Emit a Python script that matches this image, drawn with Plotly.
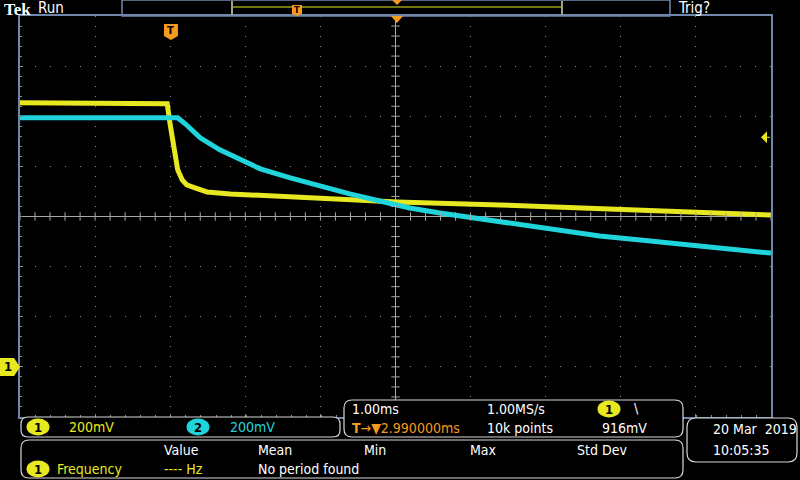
import numpy as np
import plotly.graph_objects as go

# screen is 800x480, graticule box in pixels
W, H = 800, 480
GX0, GX1, GY0, GY1 = 20, 771, 16, 417

# time from trigger (ms), 1 ms/div, 10 div on screen
t_range = [-2.01, 7.99]
ch1_scale, ch1_offset = 0.2, -3.0   # V/div, div
ch2_scale, ch2_offset = 0.2, -5.0

# channel 1 (yellow)
ch1_t = [-2.01, -0.05, -0.01, 0.04, 0.09, 0.15, 0.21, 0.32, 0.48, 0.79, 1.72, 3.01, 4.38, 5.71, 7.04, 7.99]
ch1_v = [1.054, 1.050, 0.966, 0.866, 0.786, 0.746, 0.726, 0.714, 0.698, 0.690, 0.678, 0.658, 0.646, 0.630, 0.618, 0.606]

# channel 2 (cyan)
ch2_t = [-2.01, 0.09, 0.19, 0.39, 0.65, 0.92, 1.19, 1.59, 1.98, 2.38, 2.78, 3.18, 3.58, 4.12,
         4.65, 5.18, 5.71, 6.25, 6.78, 7.31, 7.99]
ch2_v = [1.394, 1.394, 1.370, 1.314, 1.266, 1.226, 1.190, 1.154, 1.122, 1.090, 1.062, 1.034, 1.014,
         0.990, 0.970, 0.946, 0.922, 0.906, 0.890, 0.874, 0.854]

trig_level = 0.916
trig_delay = 2.99

YEL = '#e8e820'
CYN = '#20d4dc'
ORG = '#f59a1e'
BORDER = '#7088ae'
GRID = '#8a8a8a'
FONT = 'DejaVu Sans Condensed'


def px(x):
    return x / W


def py(y):
    return 1 - y / H


def rrect(x0, y0, x1, y1, r=7):
    rx, ry = r / W, r / H
    a0, a1, b0, b1 = px(x0), px(x1), py(y0), py(y1)
    return (f'M{a0 + rx},{b0} L{a1 - rx},{b0} Q{a1},{b0} {a1},{b0 - ry} '
            f'L{a1},{b1 + ry} Q{a1},{b1} {a1 - rx},{b1} L{a0 + rx},{b1} '
            f'Q{a0},{b1} {a0},{b1 + ry} L{a0},{b0 - ry} Q{a0},{b0} {a0 + rx},{b0} Z')


def poly(points):
    return 'M' + ' L'.join(f'{px(x)},{py(y)}' for x, y in points) + ' Z'


shapes = []
annos = []


def text(x, y, s, color='white', size=13, anchor='left', bold=False, family=FONT):
    if bold:
        s = f'<b>{s}</b>'
    annos.append(dict(x=px(x), y=py(y), xref='paper', yref='paper', text=s, showarrow=False,
                      xanchor=anchor, yanchor='middle', font=dict(family=family, size=size, color=color)))


def badge(xc, yc, label, color, w=23, h=17):
    shapes.append(dict(type='circle', xref='paper', yref='paper', x0=px(xc - w / 2), x1=px(xc + w / 2),
                       y0=py(yc + h / 2), y1=py(yc - h / 2), fillcolor=color, line=dict(width=0)))
    text(xc, yc, label, color='black', size=13, anchor='center', bold=True)


fig = go.Figure()

# waveforms in divisions
fig.add_trace(go.Scatter(x=ch1_t, y=np.array(ch1_v) / ch1_scale + ch1_offset, mode='lines',
                         line=dict(color=YEL, width=5), hoverinfo='skip'))
fig.add_trace(go.Scatter(x=ch2_t, y=np.array(ch2_v) / ch2_scale + ch2_offset, mode='lines',
                         line=dict(color=CYN, width=5), hoverinfo='skip'))

# centre cross with small ticks
t_mid = trig_delay
sub_t = np.arange(t_range[0], t_range[1] + 1e-6, 0.2)
sub_y = np.arange(-4, 4.0001, 0.2)
shapes.append(dict(type='line', xref='x', yref='y', x0=t_mid, x1=t_mid, y0=-4, y1=4,
                   line=dict(color='#a8a8a8', width=1), layer='below'))
shapes.append(dict(type='line', xref='x', yref='y', x0=t_range[0], x1=t_range[1], y0=0, y1=0,
                   line=dict(color='#a8a8a8', width=1), layer='below'))
fig.add_trace(go.Scatter(x=sub_t, y=np.zeros_like(sub_t), mode='markers', hoverinfo='skip',
                         marker=dict(symbol='line-ns', size=6, line=dict(color='#a8a8a8', width=1))))
fig.add_trace(go.Scatter(x=np.full_like(sub_y, t_mid), y=sub_y, mode='markers', hoverinfo='skip',
                         marker=dict(symbol='line-ew', size=6, line=dict(color='#a8a8a8', width=1))))

# --- top bar ---
text(2, 9, 'Tek', size=17, bold=True, family='Liberation Serif')
text(36, 8, 'Run', size=15)
shapes.append(dict(type='rect', xref='paper', yref='paper', x0=px(122), x1=px(670), y0=py(16), y1=py(0),
                   line=dict(color=BORDER, width=1.5)))
shapes.append(dict(type='line', xref='paper', yref='paper', x0=px(233), x1=px(562), y0=py(7), y1=py(7),
                   line=dict(color=YEL, width=1.2)))
for bx in (232, 562):
    shapes.append(dict(type='line', xref='paper', yref='paper', x0=px(bx), x1=px(bx), y0=py(1), y1=py(15),
                       line=dict(color='#a0a090', width=2)))
shapes.append(dict(type='path', xref='paper', yref='paper', path=poly([(292, 5), (302, 5), (302, 14), (297, 16), (292, 14)]),
                   fillcolor=ORG, line=dict(width=0)))
text(297, 10, 'T', color='black', size=9, anchor='center', bold=True)
shapes.append(dict(type='path', xref='paper', yref='paper', path=poly([(392, 0), (402, 0), (397, 5)]),
                   fillcolor=ORG, line=dict(width=0)))
text(676, 8, 'Trig?', size=15)

# trigger position marker and arrow at top of graticule
shapes.append(dict(type='path', xref='paper', yref='paper', path=poly([(391, 16), (403, 16), (397, 23)]),
                   fillcolor=ORG, line=dict(width=0)))
tx = GX0 + (-t_range[0]) / (t_range[1] - t_range[0]) * (GX1 - GX0)
shapes.append(dict(type='path', xref='paper', yref='paper',
                   path=poly([(tx - 7, 24), (tx + 7, 24), (tx + 7, 36), (tx, 40), (tx - 7, 36)]),
                   fillcolor=ORG, line=dict(width=0)))
text(tx, 31, 'T', color='black', size=11, anchor='center', bold=True)

# trigger level arrow on right
ty_div = trig_level / ch1_scale + ch1_offset
ty = (GY0 + GY1) / 2 - ty_div * (GY1 - GY0) / 8
shapes.append(dict(type='path', xref='paper', yref='paper', path=poly([(761, ty), (767, ty - 6), (767, ty + 6)]),
                   fillcolor=YEL, line=dict(width=0)))
shapes.append(dict(type='line', xref='paper', yref='paper', x0=px(766), x1=px(770), y0=py(ty), y1=py(ty),
                   line=dict(color=YEL, width=1)))

# channel 1 ground marker on left
gy = (GY0 + GY1) / 2 - ch1_offset * (GY1 - GY0) / 8
shapes.append(dict(type='path', xref='paper', yref='paper',
                   path=poly([(0, gy - 9), (14, gy - 9), (20, gy), (14, gy + 9), (0, gy + 9)]),
                   fillcolor=YEL, line=dict(width=0)))
text(8, gy, '1', color='black', size=13, anchor='center', bold=True)

# --- bottom readouts ---
shapes.append(dict(type='path', xref='paper', yref='paper', path=rrect(21, 417, 340, 437, 7),
                   fillcolor='black', line=dict(color='#d8d8d8', width=1.2)))
badge(38, 427, '1', YEL)
text(67, 427, '200mV', color=YEL, size=14)
badge(198, 427, '2', CYN)
text(228, 427, '200mV', color=CYN, size=14)

shapes.append(dict(type='path', xref='paper', yref='paper', path=rrect(344, 400, 683, 437, 8),
                   fillcolor='black', line=dict(color='#d8d8d8', width=1.2)))
text(350, 409, '1.00ms', size=14)
text(485, 409, '1.00MS/s', size=14)
badge(609, 409, '1', YEL)
text(632, 408, '\\', size=14)
text(350, 428, '<b>T</b>→▼' + f'{trig_delay:.6f}ms', color=ORG, size=14)
text(485, 428, '10k points', size=14)
text(600, 428, f'{trig_level * 1000:.0f}mV', size=14)

shapes.append(dict(type='path', xref='paper', yref='paper', path=rrect(21, 440, 683, 478, 8),
                   fillcolor='black', line=dict(color='#d8d8d8', width=1.2)))
for hx, h in zip([162, 256, 362, 468, 575], ['Value', 'Mean', 'Min', 'Max', 'Std Dev']):
    text(hx, 450, h, size=14)
badge(38, 469, '1', YEL)
text(55, 469, 'Frequency', color=YEL, size=14)
text(162, 469, '---- Hz', color=YEL, size=14)
text(256, 469, 'No period found', size=14)

shapes.append(dict(type='path', xref='paper', yref='paper', path=rrect(687, 418, 797, 462, 9),
                   fillcolor='black', line=dict(color='#d8d8d8', width=1.2)))
text(711, 429, '20 Mar  2019', size=14)
text(711, 450, '10:05:35', size=14)

axis_common = dict(showline=True, linecolor=BORDER, linewidth=1.5, mirror=True, zeroline=False,
                   showticklabels=False, ticks='inside', ticklen=3, tickcolor=GRID,
                   showgrid=True, gridcolor=GRID, gridwidth=1, fixedrange=True)

fig.update_layout(
    width=W, height=H, margin=dict(l=0, r=0, t=0, b=0),
    paper_bgcolor='black', plot_bgcolor='black', showlegend=False,
    xaxis=dict(range=t_range, tick0=t_range[0], dtick=1, domain=[px(GX0), px(GX1)],
               griddash='1px,9px', minor=dict(ticks='inside', dtick=0.2, ticklen=2, tickcolor=GRID),
               **axis_common),
    yaxis=dict(range=[-4, 4], tick0=-4, dtick=1, domain=[py(GY1), py(GY0)],
               griddash='1px,14px', minor=dict(ticks='inside', dtick=0.2, ticklen=2, tickcolor=GRID),
               **axis_common),
    shapes=shapes, annotations=annos,
)

fig.write_html('out.html', config={'displayModeBar': False},
               post_script="document.body.style.margin='0';document.body.style.background='black';")
